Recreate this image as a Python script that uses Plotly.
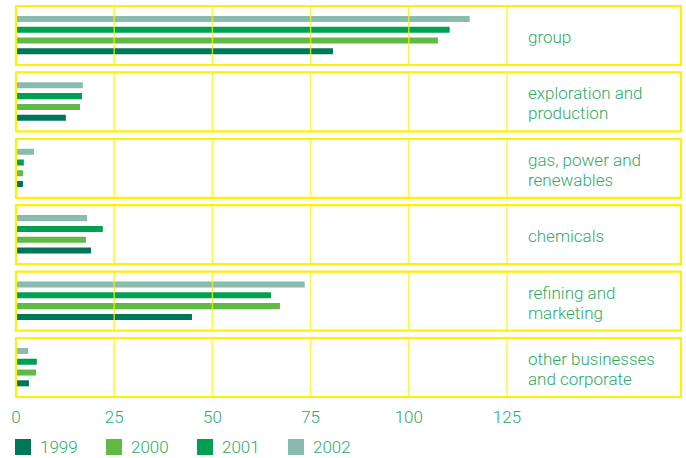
import plotly.graph_objects as go
from plotly.subplots import make_subplots

segments = ["group", "exploration and<br>production", "gas, power and<br>renewables",
            "chemicals", "refining and<br>marketing", "other businesses<br>and corporate"]
years = ["1999", "2000", "2001", "2002"]
colors = ["#00765A", "#62BA46", "#00A052", "#8BBAAE"]
values = {
    "1999": [80.7, 12.7, 1.8, 19.1, 44.8, 3.3],
    "2000": [107.4, 16.3, 1.8, 17.8, 67.2, 5.1],
    "2001": [110.4, 16.8, 2.0, 22.1, 64.9, 5.3],
    "2002": [115.5, 17.0, 4.6, 18.1, 73.5, 3.1],
}
tick_vals = [0, 25, 50, 75, 100, 125]

W, H = 686, 458
ML, MR, MT, MB = 16, 5, 6, 61
PW, PH = W - ML - MR, H - MT - MB
XMAX = PW / 3.928

TXT = "#2EAA68"
YEL = "#FFF200"
FONT = "Roboto"

n = len(segments)
fig = make_subplots(rows=n, cols=1, shared_xaxes=True, vertical_spacing=7.4 / PH)

for r in range(n):
    for j, yr in enumerate(years):
        fig.add_trace(go.Bar(
            x=[values[yr][r]], y=[j], orientation="h", marker_color=colors[j],
            marker_line_width=0, width=0.56, showlegend=False, name=yr,
        ), row=r + 1, col=1)

shapes = []
annotations = []
for r in range(n):
    k = "" if r == 0 else str(r + 1)
    for t in tick_vals[1:]:
        shapes.append(dict(type="line", xref="x" + k, yref="y" + k + " domain",
                           x0=t, x1=t, y0=0, y1=1, line=dict(color=YEL, width=1.6),
                           opacity=0.7, layer="above"))
    shapes.append(dict(type="rect", xref="x" + k + " domain", yref="y" + k + " domain",
                       x0=0, x1=1, y0=0, y1=1, line=dict(color=YEL, width=2.2), layer="above"))
    lines = segments[r].split("<br>")
    offs = [-1.5] if len(lines) == 1 else [8.5, -11.5]
    for line, off in zip(lines, offs):
        annotations.append(dict(text=line, xref="x" + k, yref="y" + k + " domain",
                                x=129.8, y=0.5, yshift=off, xanchor="left", yanchor="middle",
                                showarrow=False, font=dict(family=FONT, size=17, color=TXT, weight=300)))
    fig.update_yaxes(range=[-1.27, 4.2], visible=False, row=r + 1, col=1)
    fig.update_xaxes(range=[0, XMAX], tickvals=tick_vals, showgrid=False, zeroline=False,
                     showline=False, ticks="", row=r + 1, col=1)

fig.update_xaxes(tickfont=dict(family=FONT, size=17, color=TXT, weight=300),
                 ticklabelstandoff=8, row=n, col=1)

# legend
for i, (yr, c) in enumerate(zip(years, colors)):
    x0 = 15 + 91 * i
    shapes.append(dict(type="rect", xref="paper", yref="paper",
                       x0=(x0 - ML) / PW, x1=(x0 + 16 - ML) / PW,
                       y0=(PH + MT - 455) / PH, y1=(PH + MT - 439) / PH,
                       fillcolor=c, line_width=0))
    annotations.append(dict(text=yr, xref="paper", yref="paper",
                            x=(x0 + 23 - ML) / PW, y=(PH + MT - 447) / PH,
                            xanchor="left", yanchor="middle", showarrow=False,
                            font=dict(family=FONT, size=17, color=TXT, weight=300)))

fig.update_layout(width=W, height=H, margin=dict(l=ML, r=MR, t=MT, b=MB),
                  plot_bgcolor="white", paper_bgcolor="white", barmode="overlay",
                  shapes=shapes, annotations=annotations, showlegend=False)

fig.write_html("out.html")
